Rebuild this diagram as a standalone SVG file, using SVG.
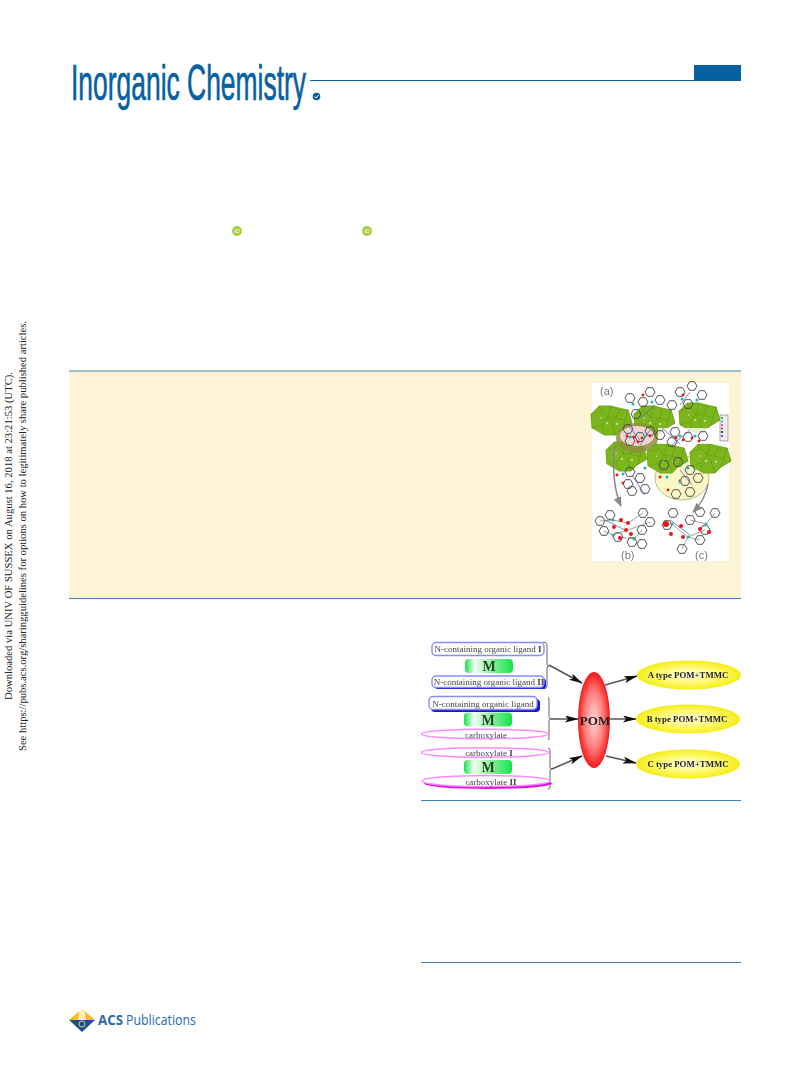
<svg xmlns="http://www.w3.org/2000/svg" width="809" height="1067" viewBox="0 0 809 1067">
<style>
.ser{font-family:"Liberation Serif","Times New Roman",serif}
.lab{font-size:9px;fill:#444;text-anchor:middle}
.typ{font-size:8.800px;font-weight:bold;fill:#222;text-anchor:middle}
.mm{font-size:14px;font-weight:bold;fill:#224422;text-anchor:middle}
.nbox{fill:#fff;stroke:#8a8aff;stroke-width:1.400}
.shb{fill:#1414d8}
.ell{fill:#fff;stroke:#ff8aff;stroke-width:1.500}
.brace{fill:none;stroke:#555;stroke-width:.9}
.arrow{fill:none;stroke:#555;stroke-width:1.500;marker-end:url(#ah)}
.rule{stroke:#3f7fb5;stroke-width:1}
.hex{fill:none;stroke:#444;stroke-width:.9}
.o{fill:#e81818}
.t{fill:#22b8b0}
.g{fill:#7cb61c;stroke:#5f9a14;stroke-width:.5}
.bl{stroke:#5560c0;stroke-width:.8;fill:none}
.st{stroke:#777;stroke-width:.7;fill:none}
.figt{font-family:"Liberation Sans",Arial,sans-serif;font-size:11px;fill:#777}
</style>
<defs>
<filter id="soft" x="-5%" y="-5%" width="110%" height="110%"><feGaussianBlur stdDeviation="0.45"/></filter>
<filter id="soft2" x="-5%" y="-5%" width="110%" height="110%"><feGaussianBlur stdDeviation="0.4"/></filter>
<marker id="ah" markerWidth="14" markerHeight="7" refX="13" refY="3.500" orient="auto" markerUnits="userSpaceOnUse"><path d="M0 0L14 3.500L0 7L3 3.500Z" fill="#111"/></marker>
<marker id="gh" markerWidth="10" markerHeight="8" refX="9" refY="4" orient="auto" markerUnits="userSpaceOnUse"><path d="M0 0L10 4L0 8Z" fill="#888"/></marker>
<linearGradient id="mg"><stop offset="0" stop-color="#16e24a"/><stop offset=".2" stop-color="#f2fff4"/><stop offset=".55" stop-color="#8cf0a0"/><stop offset="1" stop-color="#16e24a"/></linearGradient>
<radialGradient id="pom" cx=".5" cy=".5" r=".55"><stop offset="0" stop-color="#ffd8d8"/><stop offset=".55" stop-color="#ff7a7a"/><stop offset="1" stop-color="#f00000"/></radialGradient>
<radialGradient id="yel" cx=".5" cy=".5" r=".55"><stop offset="0" stop-color="#fffde0"/><stop offset=".55" stop-color="#fdf86a"/><stop offset="1" stop-color="#f3ea00"/></radialGradient>
<polygon id="h" class="hex" points="5,0 2.500,4.300 -2.500,4.300 -5,0 -2.500,-4.300 2.500,-4.300"/>
<g id="cl">
<polygon class="g" points="0,-14 17,-10 21,3 11,9 5,15 -7,15 -19,8 -20,-6 -12,-14"/>
<polygon class="g" points="0,-14 8,-10 5,-2 -3,-3"/>
<polygon class="g" points="8,-10 17,-10 14,1 5,-2"/>
<polygon class="g" points="17,-10 21,3 11,9 14,1"/>
<polygon class="g" points="14,1 11,9 5,15 1,4 5,-2"/>
<polygon class="g" points="1,4 5,15 -7,15 -9,5 -3,-3"/>
<polygon class="g" points="-3,-3 -9,5 -19,8 -20,-6 -9,-9"/>
<polygon class="g" points="0,-14 -3,-3 -9,-9 -12,-14"/>
<circle cx="-4" cy="3" r=".9" fill="#e8e8d8"/><circle cx="6" cy="4" r=".9" fill="#e8e8d8"/><circle cx="-10" cy="-2" r=".9" fill="#e0a8d0"/>
</g>
</defs>
<rect width="809" height="1067" fill="#fff"/>

<g id="header">
<text x="71" y="100" textLength="235" lengthAdjust="spacingAndGlyphs" font-family="Liberation Sans Narrow,Liberation Sans,sans-serif" font-size="50" fill="#07609f" stroke="#07609f" stroke-width=".7">Inorganic Chemistry</text>
<line x1="310" y1="80.500" x2="741" y2="80.500" stroke="#07609f" stroke-width="1"/>
<rect x="694" y="65" width="47" height="15" fill="#07609f"/>
<circle cx="316.500" cy="96.500" r="3.800" fill="#07609f"/>
<path d="M314.500 96.500l1.500 1.500l2.500-3" fill="none" stroke="#fff" stroke-width="1"/>
</g>

<g id="side-note" class="ser" fill="#222" font-size="10.500">
<text transform="translate(11.500 700) rotate(-90)" textLength="328" lengthAdjust="spacingAndGlyphs">Downloaded via UNIV OF SUSSEX on August 16, 2018 at 23:21:53 (UTC).</text>
<text transform="translate(25.500 751) rotate(-90)" textLength="430" lengthAdjust="spacingAndGlyphs">See https://pubs.acs.org/sharingguidelines for options on how to legitimately share published articles.</text>
</g>

<g id="orcid" font-family="Liberation Sans,sans-serif" font-size="6" fill="#fff" text-anchor="middle">
<circle cx="237" cy="231" r="5" fill="#a6ce39"/><text x="237" y="233">iD</text>
<circle cx="367" cy="231" r="5" fill="#a6ce39"/><text x="367" y="233">iD</text>
</g>

<g id="abstract-band">
<rect x="69" y="371" width="672" height="227" fill="#fdf3d6"/>
<line class="rule" x1="69" y1="371" x2="741" y2="371"/>
<line class="rule" x1="69" y1="598.500" x2="741" y2="598.500"/>
</g>

<g id="toc-graphic">
<rect x="592" y="383" width="137" height="178" fill="#fff"/>
<g filter="url(#soft)">
<ellipse cx="682" cy="478" rx="27" ry="22" fill="#fbf7c4" stroke="#a8a870" stroke-width=".8"/>
<use href="#cl" x="611" y="420"/>
<use href="#cl" x="654" y="420"/>
<use href="#cl" x="699" y="417"/>
<use href="#cl" x="626" y="456"/>
<use href="#cl" x="667" y="458"/>
<use href="#cl" x="710" y="458"/>
<ellipse cx="637" cy="438" rx="21" ry="15" fill="#8f8f3a" opacity=".85"/>
<ellipse cx="637" cy="436" rx="17" ry="10" fill="#efd6d2"/>
<rect x="658" y="428" width="52" height="16" fill="#fff" opacity=".8"/>
<use href="#h" x="643" y="402"/><use href="#h" x="636" y="414"/><use href="#h" x="660" y="400"/><use href="#h" x="672" y="405"/>
<use href="#h" x="680" y="392"/><use href="#h" x="692" y="386"/><use href="#h" x="702" y="395"/><use href="#h" x="688" y="404"/><use href="#h" x="650" y="392"/><use href="#h" x="630" y="398"/>
<use href="#h" x="628" y="429"/><use href="#h" x="640" y="437"/><use href="#h" x="630" y="441"/><use href="#h" x="650" y="431"/><use href="#h" x="660" y="435"/>
<use href="#h" x="675" y="432"/><use href="#h" x="688" y="437"/><use href="#h" x="703" y="436"/><use href="#h" x="672" y="442"/>
<use href="#h" x="630" y="472"/><use href="#h" x="640" y="478"/><use href="#h" x="628" y="484"/><use href="#h" x="645" y="489"/><use href="#h" x="632" y="491"/>
<use href="#h" x="664" y="465"/><use href="#h" x="678" y="462"/><use href="#h" x="690" y="470"/><use href="#h" x="698" y="478"/><use href="#h" x="690" y="492"/><use href="#h" x="676" y="494"/><use href="#h" x="685" y="481"/>
<use href="#h" x="600" y="521"/><use href="#h" x="610" y="515"/><use href="#h" x="604" y="531"/><use href="#h" x="618" y="537"/><use href="#h" x="632" y="542"/><use href="#h" x="643" y="513"/><use href="#h" x="650" y="522"/><use href="#h" x="642" y="530"/><use href="#h" x="642" y="544"/>
<use href="#h" x="673" y="513"/><use href="#h" x="667" y="525"/><use href="#h" x="690" y="520"/><use href="#h" x="700" y="512"/><use href="#h" x="715" y="513"/><use href="#h" x="700" y="540"/><use href="#h" x="682" y="549"/><use href="#h" x="705" y="530"/>
<path class="bl" d="M628 425L640 440M650 430L640 445M662 428L680 444M690 430L672 445M632 475L645 495M655 405L640 418M690 392L680 405M680 470L692 485M605 520L625 530M670 520L690 535"/>
<path class="st" d="M600 521L613 520L628 523L643 513M604 531L613 535L628 530L650 522M618 537L634 539L642 530M667 525L672 524L688 537L700 540M690 520L706 524L715 513M682 549L688 537L705 530"/>
<g class="o">
<circle cx="627" cy="436" r="1.400"/><circle cx="634" cy="437" r="1.400"/><circle cx="642" cy="438" r="1.400"/><circle cx="650" cy="436" r="1.400"/><circle cx="638" cy="442" r="1.400"/>
<circle cx="676" cy="438" r="1.400"/><circle cx="683" cy="440" r="1.400"/><circle cx="692" cy="438" r="1.400"/><circle cx="699" cy="441" r="1.400"/>
<circle cx="617" cy="475" r="1.400"/><circle cx="623" cy="483" r="1.400"/><circle cx="660" cy="477" r="1.400"/><circle cx="668" cy="490" r="1.400"/><circle cx="680" cy="481" r="1.400"/>
<circle cx="643" cy="395" r="1.400"/><circle cx="683" cy="395" r="1.400"/>
<circle cx="614" cy="527" r="2"/><circle cx="621" cy="520" r="2"/><circle cx="628" cy="523" r="2"/><circle cx="620" cy="538" r="2"/><circle cx="631" cy="534" r="2"/><circle cx="626" cy="530" r="2"/>
<circle cx="666" cy="524" r="3"/><circle cx="681" cy="526" r="2"/><circle cx="671" cy="534" r="2"/><circle cx="700" cy="529" r="2"/><circle cx="709" cy="532" r="2"/><circle cx="683" cy="537" r="2"/>
</g>
<g class="t">
<circle cx="633" cy="404" r="1.500"/><circle cx="652" cy="402" r="1.500"/><circle cx="682" cy="399" r="1.500"/><circle cx="697" cy="400" r="1.500"/>
<circle cx="630" cy="437" r="1.500"/><circle cx="645" cy="436" r="1.500"/><circle cx="680" cy="436" r="1.500"/><circle cx="695" cy="436" r="1.500"/>
<circle cx="623" cy="474" r="1.500"/><circle cx="645" cy="468" r="1.500"/><circle cx="667" cy="477" r="1.500"/><circle cx="688" cy="468" r="1.500"/><circle cx="680" cy="482" r="1.500"/>
<circle cx="613" cy="520" r="1.500"/><circle cx="613" cy="535" r="1.500"/><circle cx="634" cy="539" r="1.500"/>
<circle cx="672" cy="524" r="1.500"/><circle cx="688" cy="537" r="1.500"/><circle cx="706" cy="524" r="1.500"/>
</g>
<path d="M615 445C612 470 614 490 621 506" fill="none" stroke="#888" stroke-width="1.500" marker-end="url(#gh)"/>
<path d="M708 484C706 496 700 505 693 512" fill="none" stroke="#888" stroke-width="1.500" marker-end="url(#gh)"/>
<rect x="720" y="415" width="8" height="26" fill="#eee" stroke="#777" stroke-width=".6"/>
<circle cx="722" cy="418" r="1" fill="#1a9a40"/><circle cx="722" cy="421.500" r="1" fill="#22b8b0"/><circle cx="722" cy="425" r="1" fill="#e020d0"/><circle cx="722" cy="428.500" r="1" fill="#e81818"/><circle cx="722" cy="432" r="1" fill="#111"/><circle cx="722" cy="436" r="1" fill="#2020e0"/>
<text class="figt" x="600" y="395">(a)</text>
<text class="figt" x="621" y="559">(b)</text>
<text class="figt" x="695" y="559">(c)</text>
</g>
</g>

<g id="scheme" filter="url(#soft2)">
<g id="connectors">
<path class="brace" d="M543 642Q547 642 547 645V664Q547 666 549 666Q547 666 547 668V686Q547 689 543 689"/>
<path class="brace" d="M548 697Q549 697 549 700V717Q549 719 551 719Q549 719 549 721V738Q549 740 548 740"/>
<path class="brace" d="M548 748Q550 748 550 751V767Q550 769 552 769Q550 769 550 771V787Q550 789 548 789"/>
<line class="arrow" x1="549" y1="665" x2="582" y2="683"/>
<line class="arrow" x1="551" y1="719" x2="578" y2="719"/>
<line class="arrow" x1="552" y1="769" x2="582" y2="756"/>
<line class="arrow" x1="605" y1="685" x2="637" y2="676"/>
<line class="arrow" x1="610" y1="719" x2="636" y2="719"/>
<line class="arrow" x1="606" y1="756" x2="636" y2="763"/>
</g>
<g id="ligand-1"><rect class="nbox" x="432" y="642.500" width="112" height="13" rx="4"/><text class="ser lab" x="488" y="652">N-containing organic ligand <tspan font-weight="bold">I</tspan></text></g>
<g id="metal-1"><rect x="465" y="659" width="48" height="14" rx="4" fill="url(#mg)"/><text class="ser mm" x="489" y="671">M</text></g>
<g id="ligand-2"><rect class="shb" x="434" y="678" width="112" height="11" rx="4"/><rect class="nbox" x="432" y="676" width="112" height="11.500" rx="4"/><text class="ser lab" x="489" y="685">N-containing organic ligand <tspan font-weight="bold">II</tspan></text></g>
<g id="ligand-3"><rect class="shb" x="431" y="699" width="109" height="13" rx="4" fill="#1010c8"/><rect class="nbox" x="429" y="696.500" width="108" height="13" rx="4"/><text class="ser lab" x="483" y="707">N-containing organic ligand</text></g>
<g id="metal-2"><rect x="464" y="712.500" width="48" height="14" rx="4" fill="url(#mg)"/><text class="ser mm" x="488" y="724.500">M</text></g>
<g id="carboxylate"><ellipse class="ell" cx="485" cy="734" rx="63.500" ry="4.800"/><text class="ser lab" x="486" y="738">carboxylate</text></g>
<g id="carboxylate-1"><ellipse class="ell" cx="485" cy="752.500" rx="63.500" ry="4.800"/><text class="ser lab" x="489" y="756">carboxylate <tspan font-weight="bold">I</tspan></text></g>
<g id="metal-3"><rect x="464" y="760" width="48" height="14" rx="4" fill="url(#mg)"/><text class="ser mm" x="488" y="772">M</text></g>
<g id="carboxylate-2"><ellipse cx="488" cy="783.500" rx="64" ry="5.500" fill="#e010e0"/><ellipse class="ell" cx="486" cy="781" rx="64" ry="5.500"/><text class="ser lab" x="491" y="785">carboxylate <tspan font-weight="bold">II</tspan></text></g>
<g id="pom-node"><ellipse cx="594" cy="720" rx="16" ry="48" fill="url(#pom)"/><text class="ser" x="595" y="725" text-anchor="middle" font-size="13" font-weight="bold" fill="#222">POM</text></g>
<g id="type-a"><ellipse cx="689" cy="675" rx="52" ry="14.500" fill="url(#yel)"/><text class="ser typ" x="688" y="678">A type POM+TMMC</text></g>
<g id="type-b"><ellipse cx="688" cy="719" rx="52" ry="14.500" fill="url(#yel)"/><text class="ser typ" x="687" y="722">B type POM+TMMC</text></g>
<g id="type-c"><ellipse cx="688" cy="764" rx="52" ry="14.500" fill="url(#yel)"/><text class="ser typ" x="688" y="767">C type POM+TMMC</text></g>
</g>

<line class="rule" x1="421" y1="800.500" x2="741" y2="800.500"/>
<line class="rule" x1="421" y1="962.500" x2="741" y2="962.500"/>

<g id="acs-logo">
<path d="M69 1020L76 1014L82 1009L88 1014L95 1020Z" fill="#f6b81c"/>
<path d="M78 1020L79 1012L82 1008L85 1012L86 1020Z" fill="#fff2b8"/>
<path d="M69 1020H95L82 1032Z" fill="#1b4f92"/>
<circle cx="82" cy="1024" r="3" fill="none" stroke="#e8c860" stroke-width="1"/>
<text x="98" y="1025" font-family="Open Sans,Liberation Sans,sans-serif" font-size="14" font-weight="bold" fill="#2a6aa8" textLength="25" lengthAdjust="spacingAndGlyphs">ACS</text>
<text x="126" y="1025" font-family="Open Sans,Liberation Sans,sans-serif" font-size="14" fill="#2a6aa8" textLength="70" lengthAdjust="spacingAndGlyphs">Publications</text>
</g>
</svg>
